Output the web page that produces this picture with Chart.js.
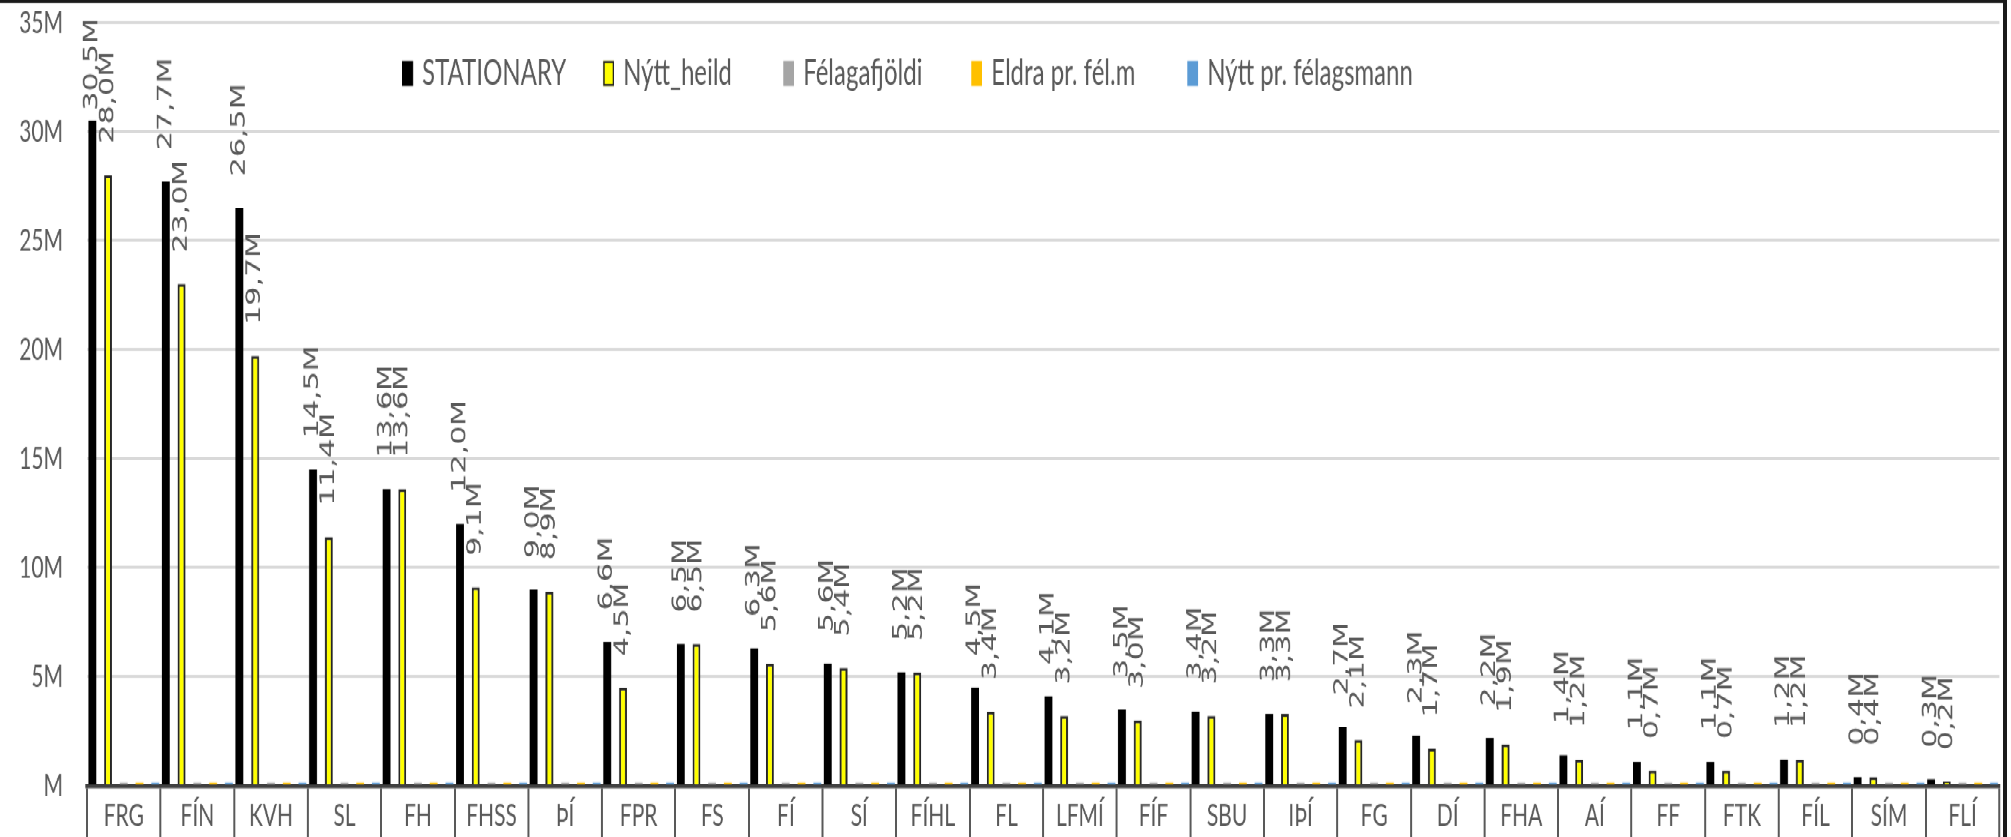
<!DOCTYPE html>
<html>
<head>
<meta charset="utf-8">
<script src="https://cdn.jsdelivr.net/npm/chart.js@4.4.0/dist/chart.umd.min.js"></script>
<style>
html, body { margin:0; padding:0; background:#fff; overflow:hidden; }
#ramma { position:absolute; left:0; top:0; width:2003px; height:556px;
         border-top:2px solid #1a1a1a; border-right:4px solid #1a1a1a;
         transform:scaleY(1.5); transform-origin:0 0; }
#ramma canvas { display:block; }
</style>
</head>
<body>
<div id="ramma"><canvas id="graf" width="2003" height="556"></canvas></div>
<script>
// gildi í milljónum
const flokkar = ['FRG','FÍN','KVH','SL','FH','FHSS','ÞÍ','FPR','FS','FÍ','SÍ','FÍHL','FL','LFMÍ','FÍF','SBU','IÞÍ','FG','DÍ','FHA','AÍ','FF','FTK','FÍL','SÍM','FLÍ'];
const stationary = [30.5,27.7,26.5,14.5,13.6,12.0,9.0,6.6,6.5,6.3,5.6,5.2,4.5,4.1,3.5,3.4,3.3,2.7,2.3,2.2,1.4,1.1,1.1,1.2,0.4,0.3];
const nyttHeild = [28.0,23.0,19.7,11.4,13.6,9.1,8.9,4.5,6.5,5.6,5.4,5.2,3.4,3.2,3.0,3.2,3.3,2.1,1.7,1.9,1.2,0.7,0.7,1.2,0.4,0.2];
const felagafjoldi = [0.15,0.15,0.15,0.15,0.15,0.15,0.15,0.15,0.15,0.15,0.15,0.15,0.15,0.15,0.15,0.15,0.15,0.15,0.15,0.15,0.15,0.15,0.15,0.15,0.15,0.15];
const eldraPrFel = [0.15,0.15,0.15,0.15,0.15,0.15,0.15,0.15,0.15,0.15,0.15,0.15,0.15,0.15,0.15,0.15,0.15,0.15,0.15,0.15,0.15,0.15,0.15,0.15,0.15,0.15];
const nyttPrFel = [0.15,0.15,0.15,0.15,0.15,0.15,0.15,0.15,0.15,0.15,0.15,0.15,0.15,0.15,0.15,0.15,0.15,0.15,0.15,0.15,0.15,0.15,0.15,0.15,0.15,0.15];
const yMax = 35;
const yStep = 5;

const GRAR = '#595959';

// gildismerki, snúin upp á við ofan við súlurnar
const merkiPlugin = {
  id: 'merki',
  afterDatasetsDraw(chart) {
    const ctx = chart.ctx;
    ctx.save();
    ctx.font = '20px "DejaVu Sans"';
    ctx.fillStyle = GRAR;
    ctx.textBaseline = 'middle';
    ctx.textAlign = 'left';
    [0, 1].forEach(di => {
      const meta = chart.getDatasetMeta(di);
      const gogn = chart.data.datasets[di].data;
      meta.data.forEach((bar, i) => {
        const texti = gogn[i].toFixed(1).replace('.', ',') + 'M';
        const lengd = ctx.measureText(texti).width;
        let botn = bar.y - 21;
        if (botn - lengd < 10) botn = 10 + lengd;
        ctx.save();
        ctx.translate(bar.x, botn);
        ctx.rotate(-Math.PI / 2);
        ctx.fillText(texti, 0, 0);
        ctx.restore();
      });
    });
    ctx.restore();
  }
};

// skýringar inni í teiknisvæðinu
const skyringX = [402, 603, 783, 971, 1187];
const skyringPlugin = {
  id: 'skyring',
  afterDraw(chart) {
    const ctx = chart.ctx;
    ctx.save();
    ctx.font = '24px Lato';
    ctx.textBaseline = 'middle';
    ctx.textAlign = 'left';
    const y = 47;
    chart.data.datasets.forEach((ds, i) => {
      const x = skyringX[i];
      ctx.fillStyle = ds.backgroundColor;
      ctx.fillRect(x, y - 8.5, 11, 17);
      if (ds.borderWidth) {
        ctx.strokeStyle = ds.borderColor;
        ctx.lineWidth = 1.5;
        ctx.strokeRect(x + 0.75, y - 7.75, 9.5, 15.5);
      }
      ctx.fillStyle = GRAR;
      ctx.fillText(ds.label, x + 20, y);
    });
    ctx.restore();
  }
};

function teikna() {
  new Chart(document.getElementById('graf'), {
    type: 'bar',
    data: {
      labels: flokkar,
      datasets: [
        { label: 'STATIONARY', data: stationary, backgroundColor: '#000000', borderWidth: 0 },
        { label: 'Nýtt_heild', data: nyttHeild, backgroundColor: '#ffff00', borderColor: '#262626', borderWidth: 2 },
        { label: 'Félagafjöldi', data: felagafjoldi, backgroundColor: '#a5a5a5', borderWidth: 0 },
        { label: 'Eldra pr. fél.m', data: eldraPrFel, backgroundColor: '#ffc000', borderWidth: 0 },
        { label: 'Nýtt pr. félagsmann', data: nyttPrFel, backgroundColor: '#5b9bd5', borderWidth: 0 }
      ]
    },
    options: {
      responsive: false,
      devicePixelRatio: 1.5,
      animation: false,
      categoryPercentage: 1.07,
      barPercentage: 0.5,
      layout: { padding: { top: 13, right: 4, left: 0, bottom: 0 } },
      plugins: {
        legend: { display: false },
        tooltip: { enabled: false }
      },
      scales: {
        x: {
          grid: { offset: true, drawOnChartArea: false, drawTicks: true, tickLength: 40, color: GRAR, lineWidth: 2 },
          border: { display: true, color: '#404040', width: 3 },
          ticks: { font: { family: 'Lato', size: 21 }, color: GRAR, padding: -33, maxRotation: 0, autoSkip: false },
          afterFit: s => { s.height = 34; }
        },
        y: {
          min: 0,
          max: yMax,
          grid: { color: '#d9d9d9', lineWidth: 2, drawTicks: true, tickLength: 24, tickColor: 'rgba(0,0,0,0)' },
          border: { display: false },
          ticks: {
            stepSize: yStep,
            font: { family: 'Lato', size: 21 },
            color: GRAR,
            padding: 0,
            callback: v => (v === 0 ? 'M' : v + 'M')
          },
          afterFit: s => { s.width = 87; }
        }
      }
    },
    plugins: [merkiPlugin, skyringPlugin]
  });
}

Promise.all([
  document.fonts.load('24px Lato'),
  document.fonts.load('20px "DejaVu Sans"')
]).then(teikna, teikna);
</script>
</body>
</html>
